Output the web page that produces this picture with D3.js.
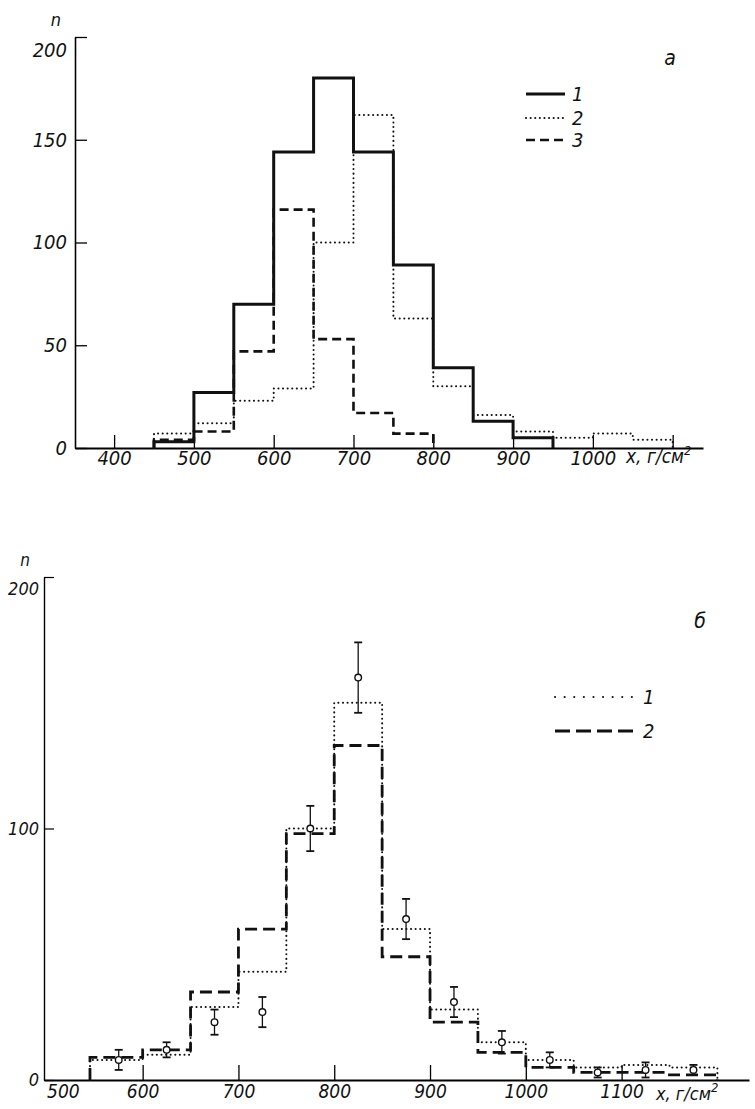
<!DOCTYPE html>
<html><head><meta charset="utf-8">
<script src="https://cdn.jsdelivr.net/npm/d3@7"></script>
<style>
body{margin:0;background:#fff;}
svg text{font-family:"DejaVu Sans Condensed","DejaVu Sans",sans-serif;font-stretch:condensed;font-style:italic;fill:#111;}
</style></head><body>
<script>
// ---- Panel a data ----
const edgesA = [450,500,550,600,650,700,750,800,850,900,950,1000,1050,1100];
const a1 = [3,27,70,144,180,144,89,39,13,5,0,0,0];      // solid
const a2 = [7,12,23,29,100,162,63,30,16,8,5,7,4];       // dotted
const a3 = [4,8,47,116,53,17,7,0,0,0,0,0,0];            // dashed
const ticksXA = [400,500,600,700,800,900,1000,1100];
const ticksYA = [0,50,100,150,200];
const legendA = ["1","2","3"];

// ---- Panel б data ----
const edgesB = [545,600,650,700,750,800,850,900,950,1000,1050,1100,1150,1200];
const b1 = [8,10,29,43,100,150,60,28,15,8,5,6,5];       // dotted
const b2 = [9,12,35,60,98,133,49,23,11,5,3,3,2];        // dashed
const ptsX = [575,625,675,725,775,825,875,925,975,1025,1075,1125,1175];
const ptsY = [8,12,23,27,100,160,64,31,15,8,3,4,4];
const ptsErr = [4,3,5,6,9,14,8,6,4.5,3,2,3,2];
const ticksXB = [500,600,700,800,900,1000,1100];
const ticksYB = [0,100,200];
const legendB = ["1","2"];

const svg = d3.select("body").append("svg").attr("width",755).attr("height",1109);

function stepPts(edges, vals){
  let last = vals.length-1;
  while(last>0 && vals[last]===0) last--;
  const p=[[edges[0],0]];
  for(let i=0;i<=last;i++) p.push([edges[i],vals[i]]);
  p.push([edges[last+1],0]);
  return p;
}
const styles = {
  solid:{w:3,dash:null,cap:"butt"},
  dot:{w:2,dash:"0.1,4.5",cap:"round"},
  dash:{w:2.6,dash:"9,5",cap:"butt"},
  dashB:{w:2.8,dash:"12,6",cap:"butt"}
};
function drawStep(g,x,y,edges,vals,st){
  const line=d3.line().x(d=>x(d[0])).y(d=>y(d[1])).curve(d3.curveStepAfter);
  g.append("path").attr("d",line(stepPts(edges,vals))).attr("fill","none")
   .attr("stroke","#111").attr("stroke-width",st.w).attr("stroke-dasharray",st.dash)
   .attr("stroke-linecap",st.cap);
}
const fmt = d3.format("d");

// ===== Panel a =====
const xA = d3.scaleLinear().domain([351,1138]).range([75,703]);
const yA = d3.scaleLinear().domain([0,200]).range([448,37]);
const gA = svg.append("g");
gA.append("g").attr("transform","translate(0,448)")
  .call(d3.axisBottom(xA).tickValues(ticksXA).tickSizeInner(-13).tickSizeOuter(0).tickPadding(3)
        .tickFormat(d=>d<=1000?fmt(d):""))
  .call(g=>{g.select(".domain").attr("stroke-width",2);g.selectAll("line").attr("stroke-width",1.3);
            g.selectAll("text").attr("font-size",20).attr("font-family",null);});
gA.append("g").attr("transform","translate(75,0)")
  .call(d3.axisLeft(yA).tickValues(ticksYA).tickSizeInner(-12).tickSizeOuter(0).tickPadding(8).tickFormat(fmt))
  .call(g=>{g.select(".domain").attr("stroke-width",1.6);g.selectAll("line").attr("stroke-width",1.3);
            g.selectAll("text").attr("font-size",20).attr("font-family",null);
            g.selectAll(".tick").filter(d=>d===200).select("text").attr("dy","0.95em");});
drawStep(gA,xA,yA,edgesA,a2,styles.dot);
drawStep(gA,xA,yA,edgesA,a3,styles.dash);
drawStep(gA,xA,yA,edgesA,a1,styles.solid);
gA.append("text").attr("x",56).attr("y",26).attr("text-anchor","middle").attr("font-size",18).text("n");
gA.append("text").attr("x",670).attr("y",65).attr("text-anchor","middle").attr("font-size",21).text("a");
const t1=gA.append("text").attr("x",626).attr("y",463).attr("font-size",19);
t1.append("tspan").text("x, г/см");
t1.append("tspan").attr("dy",-8).attr("font-size",13).text("2");
const stA=[styles.solid,styles.dot,styles.dash];
legendA.forEach((l,i)=>{
  const yy=[94,118,140][i];
  gA.append("line").attr("x1",526).attr("x2",565).attr("y1",yy).attr("y2",yy)
    .attr("stroke","#111").attr("stroke-width",stA[i].w).attr("stroke-dasharray",stA[i].dash)
    .attr("stroke-linecap",stA[i].cap);
  gA.append("text").attr("x",572).attr("y",yy+7).attr("font-size",20).text(l);
});

// ===== Panel б =====
const xB = d3.scaleLinear().domain([497,1233]).range([44,749]);
const yB = d3.scaleLinear().domain([0,200]).range([1080,577]);
const gB = svg.append("g");
gB.append("g").attr("transform","translate(0,1080)")
  .call(d3.axisBottom(xB).tickValues(ticksXB).tickSizeInner(-15).tickSizeOuter(0).tickPadding(5).tickFormat(fmt))
  .call(g=>{g.select(".domain").attr("stroke-width",2);g.selectAll("line").attr("stroke-width",1.3);
            g.selectAll(".tick").filter(d=>d===500).select("line").remove();
            g.selectAll(".tick").filter(d=>d===500).select("text").attr("dx",16);
            g.selectAll("text").attr("font-size",19).attr("font-family",null);});
gB.append("g").attr("transform","translate(44,0)")
  .call(d3.axisLeft(yB).tickValues(ticksYB).tickSizeInner(-10).tickSizeOuter(0).tickPadding(5).tickFormat(fmt))
  .call(g=>{g.select(".domain").attr("stroke-width",1.4);g.selectAll("line").attr("stroke-width",1.2);
            g.selectAll("text").attr("font-size",18).attr("font-family",null);
            g.selectAll(".tick").filter(d=>d===200).select("text").attr("dy","0.95em");});
drawStep(gB,xB,yB,edgesB,b2,styles.dashB);
drawStep(gB,xB,yB,edgesB,b1,styles.dot);
// error bars
const eg=gB.append("g").attr("stroke","#111").attr("fill","#fff");
ptsX.forEach((px,i)=>{
  const cx=xB(px), y0=yB(ptsY[i]-ptsErr[i]), y1=yB(ptsY[i]+ptsErr[i]);
  eg.append("line").attr("x1",cx).attr("x2",cx).attr("y1",y0).attr("y2",y1).attr("stroke-width",1.3);
  eg.append("line").attr("x1",cx-4).attr("x2",cx+4).attr("y1",y0).attr("y2",y0).attr("stroke-width",1.8);
  eg.append("line").attr("x1",cx-4).attr("x2",cx+4).attr("y1",y1).attr("y2",y1).attr("stroke-width",1.8);
  eg.append("circle").attr("cx",cx).attr("cy",yB(ptsY[i])).attr("r",3.3).attr("stroke-width",1.4);
});
gB.append("text").attr("x",25).attr("y",566).attr("text-anchor","middle").attr("font-size",17).text("n");
gB.append("text").attr("x",700).attr("y",628).attr("text-anchor","middle").attr("font-size",21).text("б");
const t2=gB.append("text").attr("x",656).attr("y",1100).attr("font-size",18);
t2.append("tspan").text("x, г/см");
t2.append("tspan").attr("dy",-8).attr("font-size",13).text("2");
const stB=[styles.dot,styles.dashB];
legendB.forEach((l,i)=>{
  const yy=[697,731][i];
  gB.append("line").attr("x1",555).attr("x2",637).attr("y1",yy).attr("y2",yy)
    .attr("stroke","#111").attr("stroke-width",stB[i].w)
    .attr("stroke-dasharray",i===0?"0.1,9.5":"15,6").attr("stroke-linecap",stB[i].cap);
  gB.append("text").attr("x",643).attr("y",yy+7).attr("font-size",20).text(l);
});
</script></body></html>
